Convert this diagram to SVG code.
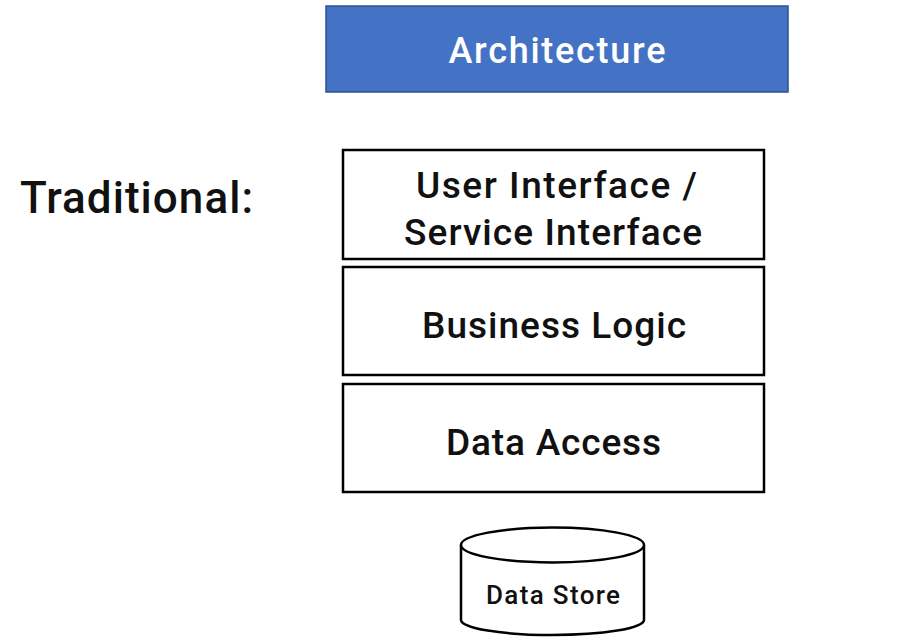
<svg xmlns="http://www.w3.org/2000/svg" width="922" height="641" viewBox="0 0 922 641">
<style>
.layer{fill:#fff;stroke:#000;stroke-width:2.5}
.t{font-family:Roboto,"Liberation Sans",Arial,sans-serif;font-weight:500;fill:#111;text-anchor:middle}
</style>
<rect width="922" height="641" fill="#fff"/>
<g id="header">
<rect x="326" y="6" width="462" height="86" fill="#4472C4" stroke="#2F528F" stroke-width="1.5"/>
<text class="t" x="557" y="63" font-size="36" textLength="217" style="fill:#fff">Architecture</text>
</g>
<g id="label">
<text class="t" x="136.5" y="213" font-size="44" textLength="233">Traditional:</text>
</g>
<g id="ui">
<rect class="layer" x="343" y="150" width="421" height="109"/>
<text class="t" x="556.5" y="198" font-size="37" textLength="281">User Interface /</text>
<text class="t" x="553" y="245" font-size="37" textLength="298">Service Interface</text>
</g>
<g id="business">
<rect class="layer" x="343" y="267" width="421" height="108"/>
<text class="t" x="554" y="338" font-size="37" textLength="264">Business Logic</text>
</g>
<g id="data-access">
<rect class="layer" x="343" y="384" width="421" height="108"/>
<text class="t" x="553.5" y="455" font-size="37" textLength="215">Data Access</text>
</g>
<g id="data-store">
<path class="layer" d="M461,545 L461,620 A91.5,15 0 0 0 644,620 L644,545"/>
<ellipse class="layer" cx="552.5" cy="545" rx="91.5" ry="17.5"/>
<text class="t" x="553" y="604" font-size="26" textLength="134">Data Store</text>
</g>
<g id="connectors"></g>
</svg>
